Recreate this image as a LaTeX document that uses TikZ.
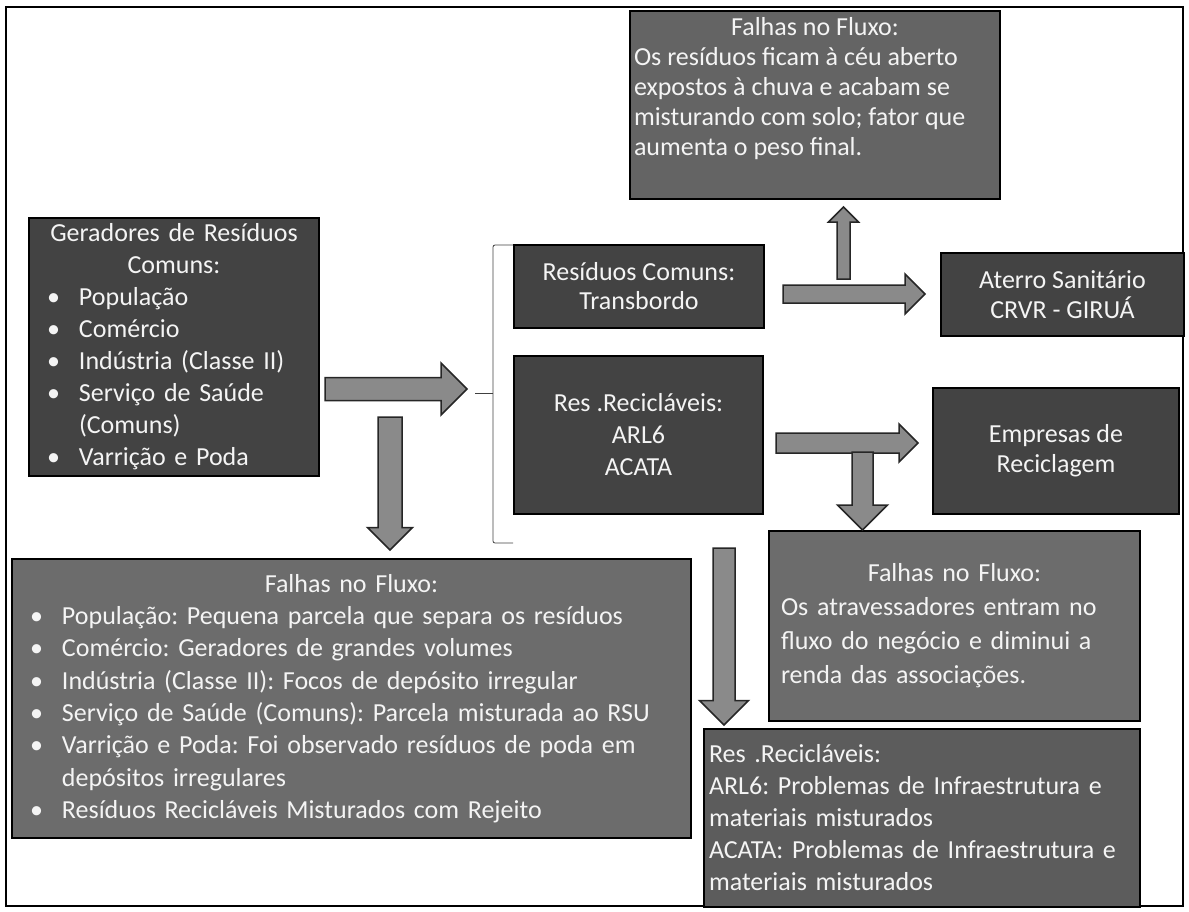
\documentclass[tikz,border=0pt]{standalone}
\usepackage{fontspec}
\setmainfont{Carlito}
\usetikzlibrary{calc}
\frenchspacing

\definecolor{boxdark}{HTML}{434343}
\definecolor{boxmid}{HTML}{646464}
\definecolor{boxlight}{HTML}{6C6C6C}
\definecolor{boxres}{HTML}{5C5C5C}
\definecolor{arrowgray}{HTML}{8A8A8A}
\definecolor{txtwhite}{HTML}{F4F4F4}

% centred line, bullet line and hanging line inside a box
\newcommand{\ctr}[1]{\makebox[\hsize][c]{#1}}
\newcommand{\bul}[1]{\hspace*{18pt}\makebox[32pt][l]{\textbullet}#1}
\newcommand{\hang}[1]{\hspace*{50pt}#1}

% block arrow: start, tip, half shaft width, half head width
\newcommand{\fatarrow}[4]{%
  \draw[fatarrow] let \p1=(#1), \p2=(#2),
      \n1={atan2(\y2-\y1,\x2-\x1)}, \n2={veclen(\x2-\x1,\y2-\y1)} in
    [shift={(\x1,\y1)}, rotate=\n1]
    (0pt,#3) -- ({\n2-#4},#3) -- ({\n2-#4},#4) -- (\n2,0pt)
    -- ({\n2-#4},-#4) -- ({\n2-#4},-#3) -- (0pt,-#3) -- cycle;}

\tikzset{
  darkbox/.style={draw=black, line width=2pt, fill=boxdark, text=txtwhite,
    inner sep=0pt, anchor=north west, font=\fontsize{26}{32}\selectfont},
  fatarrow/.style={draw=black!85, fill=arrowgray, line width=1.5pt, line join=miter},
  brace/.style={draw=black!75, line width=0.8pt, rounded corners=2pt}
}

\begin{document}
\begin{tikzpicture}[x=1pt, y=-1pt]
\useasboundingbox (0,0) rectangle (1189,911);
% outer frame
\draw[line width=1.5pt] (6,7) rectangle (1183,906);

% boxes
\node[darkbox, minimum width=290pt, minimum height=258pt, text width=290pt, align=left]
  (ger) at (28,217) {\ctr{Geradores de Resíduos}\\ \ctr{Comuns:}\\
  \bul{População}\\ \bul{Comércio}\\ \bul{Indústria (Classe II)}\\
  \bul{Serviço de Saúde}\\ \hang{(Comuns)}\\ \bul{Varrição e Poda}};
\node[darkbox, minimum width=250pt, minimum height=83pt, align=center,
  font=\fontsize{26}{29}\selectfont]
  (rcom) at (513,244) {Resíduos Comuns:\\ Transbordo};
\node[darkbox, minimum width=249pt, minimum height=158pt, align=center]
  (rrec) at (513,355) {Res .Recicláveis:\\ ARL6\\ ACATA};
\node[darkbox, minimum width=243pt, minimum height=83pt, align=center,
  font=\fontsize{26}{30}\selectfont]
  (aterro) at (940,252) {Aterro Sanitário\\ CRVR - GIRUÁ};
\node[darkbox, minimum width=246pt, minimum height=126pt, align=center,
  font=\fontsize{26}{30}\selectfont]
  (empr) at (932,387) {Empresas de\\ Reciclagem};

% falhas no fluxo
\node[darkbox, fill=boxmid, minimum width=370pt, minimum height=188pt,
  font=\fontsize{26}{30}\selectfont]
  (topfail) at (629,10) {\parbox[c][176pt][t]{362pt}{\ctr{Falhas no Fluxo:}\\
  Os resíduos ficam à céu aberto\\ expostos à chuva e acabam se\\
  misturando com solo; fator que\\ aumenta o peso final.}};
\node[darkbox, fill=boxlight, minimum width=679pt, minimum height=279pt,
  text width=679pt, align=left, font=\fontsize{26}{32.3}\selectfont]
  (botfail) at (11,558) {\ctr{Falhas no Fluxo:}\\
  \bul{População: Pequena parcela que separa os resíduos}\\
  \bul{Comércio: Geradores de grandes volumes}\\
  \bul{Indústria (Classe II): Focos de depósito irregular}\\
  \bul{Serviço de Saúde (Comuns): Parcela misturada ao RSU}\\
  \bul{Varrição e Poda: Foi observado resíduos de poda em}\\
  \hang{depósitos irregulares}\\
  \bul{Resíduos Recicláveis  Misturados com Rejeito}};
\node[darkbox, fill=boxlight, minimum width=371pt, minimum height=190pt,
  text width=347pt, align=left, font=\fontsize{26}{34}\selectfont]
  (rightfail) at (768,530) {\ctr{Falhas no Fluxo:}\\
  Os atravessadores entram no\\ fluxo do negócio e diminui a\\
  renda das associações.};
\node[darkbox, fill=boxres, minimum width=436pt, minimum height=178pt,
  text width=426pt, align=left]
  (resfail) at (703,728) {Res .Recicláveis:\\
  ARL6: Problemas de Infraestrutura e\\ materiais misturados\\
  ACATA: Problemas de Infraestrutura e\\ materiais misturados};

% bracket round the two middle boxes
\coordinate (brtop) at (513,245);
\coordinate (brbot) at (513,543);
\coordinate (brtip) at (475,393);
\draw[brace] (brtop) -- (493,245) -- (493,543) -- (brbot);
\draw[brace] (493,393) -- (brtip);

% arrows
\coordinate (a1s) at (325,389);   \coordinate (a1e) at (467,389);
\coordinate (a2s) at (390,417);   \coordinate (a2e) at (390,550);
\coordinate (a3s) at (783,294);   \coordinate (a3e) at (925,294);
\coordinate (a4s) at (843.5,279); \coordinate (a4e) at (843.5,207);
\coordinate (a5s) at (776,443);   \coordinate (a5e) at (918,443);
\coordinate (a6s) at (862.5,452); \coordinate (a6e) at (862.5,530);
\coordinate (a7s) at (724,548);   \coordinate (a7e) at (724,725);
\fatarrow{a1s}{a1e}{11.5pt}{26pt}
\fatarrow{a2s}{a2e}{12pt}{22.5pt}
\fatarrow{a3s}{a3e}{9pt}{20pt}
\fatarrow{a4s}{a4e}{6.5pt}{15pt}
\fatarrow{a5s}{a5e}{10pt}{19pt}
\fatarrow{a6s}{a6e}{10.5pt}{25pt}
\fatarrow{a7s}{a7e}{11pt}{24.5pt}
\end{tikzpicture}
\end{document}
